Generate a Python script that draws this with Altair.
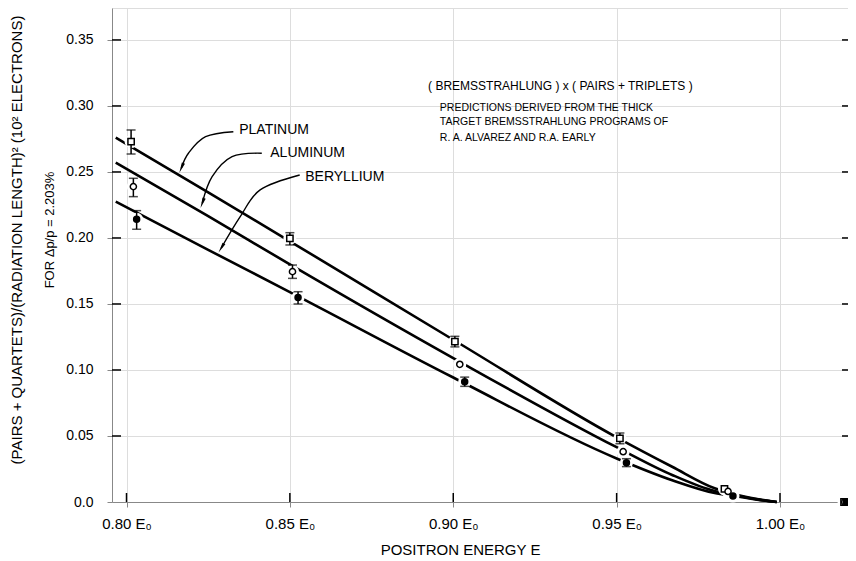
import altair as alt
import pandas as pd

# ---------------- data ----------------
curve_x = [0.7967, 0.825, 0.85, 0.90, 0.95, 0.967, 0.980, 0.986, 0.993, 0.999]
pt_curve = [0.2760, 0.2345, 0.1975, 0.1229, 0.0490, 0.0267, 0.0104, 0.0058, 0.0022, 0.0]
al_curve = [0.2570, 0.2165, 0.1800, 0.1090, 0.0415, 0.0205, 0.0083, 0.0052, 0.0020, 0.0]
be_curve = [0.2275, 0.1910, 0.1590, 0.0943, 0.0330, 0.0165, 0.0068, 0.0045, 0.0018, 0.0]

pt_x = [0.8014, 0.8500, 0.9005, 0.9510, 0.9830, 1.0196]
pt_y = [0.2730, 0.1997, 0.1215, 0.0482, 0.0100, 0.0]
pt_lo = [0.2636, 0.1947, 0.1175, 0.0442, None, None]
pt_hi = [0.2818, 0.2040, 0.1255, 0.0522, None, None]

al_x = [0.8021, 0.8508, 0.9020, 0.9520, 0.9841, 1.0198]
al_y = [0.2389, 0.1745, 0.1043, 0.0381, 0.0080, 0.0]
al_lo = [0.2313, 0.1694, None, None, None, None]
al_hi = [0.2452, 0.1795, None, None, None, None]

be_x = [0.8031, 0.8525, 0.9035, 0.9530, 0.9856, 1.0203]
be_y = [0.2141, 0.1550, 0.0911, 0.0298, 0.0045, 0.0]
be_lo = [0.2066, 0.1500, 0.0876, 0.0268, None, None]
be_hi = [0.2207, 0.1593, 0.0946, 0.0328, None, None]

series_names = ["PLATINUM", "ALUMINUM", "BERYLLIUM"]

x_ticks = [0.80, 0.85, 0.90, 0.95, 1.00]
y_ticks = [0.05, 0.10, 0.15, 0.20, 0.25, 0.30, 0.35]

# annotation arrows (data coordinates)
arrow_pt_x = [0.8327, 0.8242, 0.8190, 0.8168]
arrow_pt_y = [0.2805, 0.2767, 0.2644, 0.2530]
arrow_al_x = [0.8414, 0.8323, 0.8262, 0.8232]
arrow_al_y = [0.2642, 0.2616, 0.2464, 0.2265]
arrow_be_x = [0.8530, 0.8409, 0.8348, 0.8290]
arrow_be_y = [0.2477, 0.2364, 0.2161, 0.1924]
label_x = [0.8345, 0.8440, 0.8547]
label_y = [0.2818, 0.2644, 0.2460]

block_lines = ["( BREMSSTRAHLUNG ) x ( PAIRS + TRIPLETS )",
               "PREDICTIONS DERIVED FROM THE THICK",
               "TARGET BREMSSTRAHLUNG PROGRAMS OF",
               "R. A. ALVAREZ  AND R.A. EARLY"]
block_x = [0.8923, 0.8959, 0.8959, 0.8959]
block_y = [0.3152, 0.2985, 0.2879, 0.2758]

ytitle1 = "(PAIRS + QUARTETS)/(RADIATION LENGTH)\u00b2 (10\u00b2 ELECTRONS)"
ytitle2 = "FOR \u0394p/p = 2.203%"

# ---------------- build tables ----------------
curves = pd.concat([
    pd.DataFrame({"x": curve_x, "y": ys, "series": s})
    for s, ys in zip(series_names, [pt_curve, al_curve, be_curve])
])
pts = pd.concat([
    pd.DataFrame({"x": xs, "y": ys, "lo": lo, "hi": hi, "series": s})
    for s, xs, ys, lo, hi in zip(series_names, [pt_x, al_x, be_x], [pt_y, al_y, be_y],
                                  [pt_lo, al_lo, be_lo], [pt_hi, al_hi, be_hi])
])
errs = pts.dropna(subset=["lo", "hi"])

arrows = pd.concat([
    pd.DataFrame({"x": ax, "y": ay, "i": list(range(len(ax))), "series": s})
    for s, ax, ay in zip(series_names, [arrow_pt_x, arrow_al_x, arrow_be_x],
                         [arrow_pt_y, arrow_al_y, arrow_be_y])
])
heads = arrows.groupby("series").tail(1)
labels = pd.DataFrame({"x": label_x, "y": label_y, "t": series_names})
block = pd.DataFrame({"x": block_x, "y": block_y, "t": block_lines,
                      "big": [True, False, False, False]})
xt = pd.DataFrame({"x": x_ticks})
yt = pd.DataFrame({"y": y_ticks})

W, H = 736, 494
FONT = "Liberation Sans"
xs = alt.Scale(domain=[0.79556, 1.02081], nice=False, zero=False)
ysc = alt.Scale(domain=[0, 0.3742], nice=False)

AX_X = alt.Axis(values=x_ticks, title="POSITRON ENERGY E",
                labelExpr="format(datum.value, '.2f') + ' E\u2080'",
                labelPadding=9, titlePadding=11, labelFontSize=15,
                titleFont=FONT, titleFontSize=15, titleFontWeight="normal",
                titleColor="black", titleX=348, titleAlign="center")
AX_Y = alt.Axis(values=[0.0] + y_ticks, title="",
                labelExpr="datum.value == 0 ? '0.0' : format(datum.value, '.2f')",
                labelPadding=14, labelFontSize=14)


def X(f="x"):
    return alt.X(f + ":Q", scale=xs, axis=AX_X)


def Y(f="y"):
    return alt.Y(f + ":Q", scale=ysc, axis=AX_Y)


curve_lines = alt.Chart(curves).mark_line(color="black", strokeWidth=2.6,
                                          interpolate="monotone").encode(
    x=X(), y=Y(), detail="series:N")

halo = alt.Chart(pts).mark_point(shape="circle", filled=True, color="white",
                                 size=170, opacity=1).encode(x=X(), y=Y())

err_rule = alt.Chart(errs).mark_rule(color="black", strokeWidth=1.5).encode(
    x=X(), y=Y("lo"), y2="hi:Q")
err_lo = alt.Chart(errs).mark_tick(color="black", orient="horizontal", size=9,
                                   thickness=1.5).encode(x=X(), y=Y("lo"))
err_hi = alt.Chart(errs).mark_tick(color="black", orient="horizontal", size=9,
                                   thickness=1.5).encode(x=X(), y=Y("hi"))

markers = alt.Chart(pts).mark_point(filled=True, stroke="black", strokeWidth=1.5,
                                    opacity=1).encode(
    x=X(), y=Y(),
    shape=alt.Shape("series:N", scale=alt.Scale(domain=series_names,
                                                range=["square", "circle", "circle"]),
                    legend=None),
    fill=alt.Fill("series:N", scale=alt.Scale(domain=series_names,
                                              range=["white", "white", "black"]),
                  legend=None),
    size=alt.Size("series:N", scale=alt.Scale(domain=series_names, range=[40, 36, 45]),
                  legend=None),
)

arrow_lines = alt.Chart(arrows).mark_line(color="black", strokeWidth=1.4,
                                          interpolate="cardinal").encode(
    x=X(), y=Y(), detail="series:N", order="i:Q")

head_layers = []
for s, ang in zip(series_names, [23, 20, 31]):
    head_layers.append(
        alt.Chart(heads[heads.series == s]).mark_point(
            shape="M -0.32 -1 L 0.32 -1 L 0 1 Z", filled=True, color="black",
            size=110, angle=ang, opacity=1).encode(x=X(), y=Y()))

label_text = alt.Chart(labels).mark_text(align="left", baseline="middle", font=FONT,
                                         fontSize=14, color="black").encode(
    x=X(), y=Y(), text="t:N")

block_big = alt.Chart(block[block.big]).mark_text(align="left", baseline="middle",
                                                   font=FONT, fontSize=12,
                                                   color="black").encode(
    x=X(), y=Y(), text="t:N")
block_small = alt.Chart(block[~block.big]).mark_text(align="left", baseline="middle",
                                                      font=FONT, fontSize=10.5,
                                                      color="black").encode(
    x=X(), y=Y(), text="t:N")

xtick_in = alt.Chart(xt).mark_rule(color="black", strokeWidth=1.5).encode(
    x=X(), y=alt.value(H), y2=alt.value(H - 9))
ytick_in = alt.Chart(yt).mark_rule(color="black", strokeWidth=1.5).encode(
    y=Y(), x=alt.value(0), x2=alt.value(9))
ytick_right = alt.Chart(yt).mark_rule(color="black", strokeWidth=1.5).encode(
    y=Y(), x=alt.value(W - 6), x2=alt.value(W))

title1 = alt.Chart(pd.DataFrame({"t": [ytitle1]})).mark_text(
    angle=270, font=FONT, fontSize=15, color="black", baseline="middle",
    align="center").encode(x=alt.value(-95), y=alt.value(232), text="t:N")
title2 = alt.Chart(pd.DataFrame({"t": [ytitle2]})).mark_text(
    angle=270, font=FONT, fontSize=13, color="black", baseline="middle",
    align="center").encode(x=alt.value(-62), y=alt.value(222), text="t:N")

chart = alt.layer(
    curve_lines, halo, err_rule, err_lo, err_hi, markers, arrow_lines, *head_layers,
    label_text, block_big, block_small, xtick_in, ytick_in, ytick_right, title1, title2
).properties(
    width=W, height=H,
    autosize=alt.AutoSizeParams(type="none"),
    padding={"left": 104, "top": 0, "right": 0, "bottom": 57},
).configure_view(stroke=None).configure_axis(
    grid=False, ticks=False, domainColor="black", domainWidth=2,
    labelFont=FONT, labelColor="black",
    titleFont=FONT, titleFontSize=15, titleFontWeight="normal", titleColor="black",
).configure(background="white")

chart.save("out.html", embed_options={"renderer": "svg", "actions": False})
